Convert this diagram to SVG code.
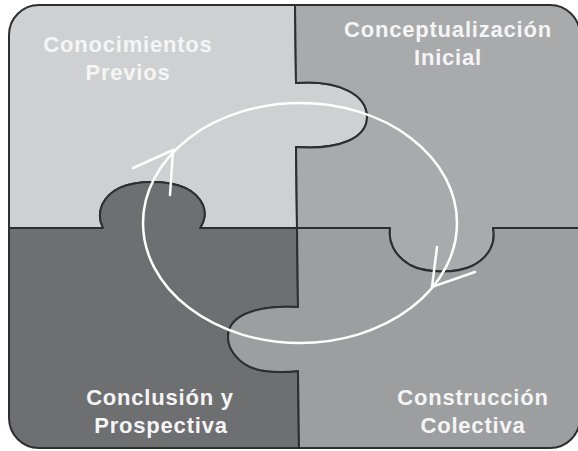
<svg xmlns="http://www.w3.org/2000/svg" width="578" height="451" viewBox="0 0 578 451">
<style>
.piece{stroke:#2e2e2e;stroke-width:2;stroke-linejoin:round}
.lbl{font-family:"Liberation Sans",Arial,sans-serif;font-weight:bold;font-size:22px;letter-spacing:0.8px;fill:#f5f5f5;text-anchor:middle}
.flow{fill:none;stroke:#ffffff;stroke-width:2.5;stroke-linecap:round}
</style>
<rect x="0" y="0" width="578" height="451" fill="#ffffff"/>
<g id="conocimientos-previos">
<path class="piece" fill="#cfd0d1" d="M9,35 A30,30 0 0 1 39,5 L295,5 L296,83 C340,80 367,95 367,117 C367,138 340,150 296,147 L297,228 L200,228 C204,222 207,215 203,205 C195,188 175,182 152,182 C130,182 110,188 102,205 C98,215 100,222 103,228 L9,228 Z"/>
<text class="lbl" x="128" y="52">Conocimientos</text>
<text class="lbl" x="128" y="80">Previos</text>
</g>
<g id="conceptualizacion-inicial">
<path class="piece" fill="#a9aaac" d="M295,5 L550,5 A30,30 0 0 1 580,35 L580,228 L493,228 C496,242 490,257 472,266 C455,274 425,273 410,265 C393,255 388,240 390,228 L297,228 L296,147 C340,150 367,138 367,117 C367,95 340,80 296,83 Z"/>
<text class="lbl" x="448" y="37">Conceptualización</text>
<text class="lbl" x="448" y="65">Inicial</text>
</g>
<g id="conclusion-prospectiva">
<path class="piece" fill="#6e6f71" d="M9,228 L103,228 C100,222 98,215 102,205 C110,188 130,182 152,182 C175,182 195,188 203,205 C207,215 204,222 200,228 L297,228 L298,307 C265,305 235,312 229,330 C224,348 240,368 265,371 C280,373 290,372 298,371 L299,448 L39,448 A30,30 0 0 1 9,418 Z"/>
<text class="lbl" x="160" y="405">Conclusión y</text>
<text class="lbl" x="161" y="433">Prospectiva</text>
</g>
<g id="construccion-colectiva">
<path class="piece" fill="#9d9ea0" d="M297,228 L390,228 C388,240 393,255 410,265 C425,273 455,274 472,266 C490,257 496,242 493,228 L580,228 L580,418 A30,30 0 0 1 550,448 L299,448 L298,371 C290,372 280,373 265,371 C240,368 224,348 229,330 C235,312 265,305 298,307 Z"/>
<text class="lbl" x="473" y="405">Construcción</text>
<text class="lbl" x="473" y="433">Colectiva</text>
</g>
<g id="connectors">
<ellipse class="flow" cx="300" cy="223" rx="157" ry="120"/>
<polyline class="flow" points="133,168 173,150 170,195"/>
<polyline class="flow" points="437,247 432,287 475,272"/>
</g>
</svg>
